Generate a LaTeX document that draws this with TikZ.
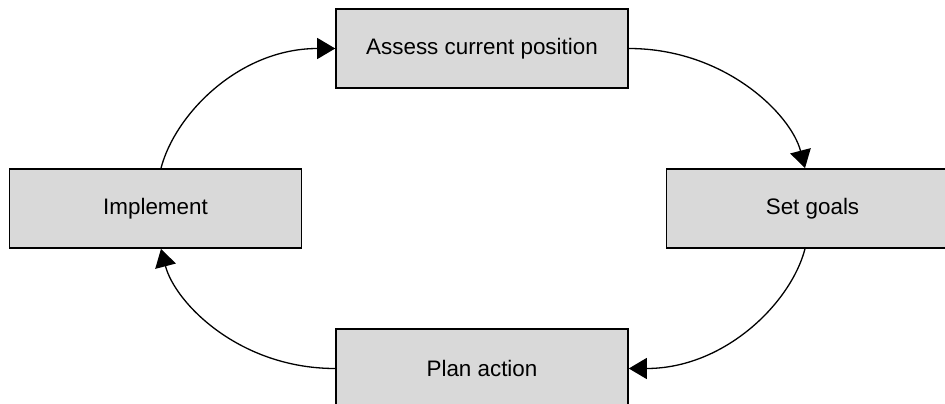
\documentclass[tikz,border=0pt]{standalone}
\usepackage{fontspec}
\setmainfont{Liberation Sans}
\usetikzlibrary{arrows.meta}
\definecolor{boxgray}{RGB}{217,217,217}
\begin{document}
\begin{tikzpicture}[x=1pt,y=-1pt,
  stepbox/.style={draw=black, fill=boxgray, line width=1.6pt, minimum width=292pt, minimum height=79pt, inner sep=0pt, font=\fontsize{22.4}{27}\selectfont},
  flow/.style={line width=1.3pt, -{Triangle[length=18pt,width=21pt]}}]
\useasboundingbox (0,0) rectangle (945,404);
\clip (0,0) rectangle (945,404);
\node[stepbox] (assess) at (482,48.5) {Assess current position};
\node[stepbox] (goals) at (812.5,208.5) {Set goals};
\node[stepbox] (impl) at (155.5,208.5) {Implement};
\node[stepbox] (plan) at (482,368.5) {Plan action};
\coordinate (implT) at ([xshift=5.5pt]impl.north);
\coordinate (implB) at ([xshift=5.5pt]impl.south);
\coordinate (goalsT) at ([xshift=-7.5pt]goals.north);
\coordinate (goalsB) at ([xshift=-7.5pt]goals.south);
\draw[flow] (implT) .. controls ([shift={(14pt,54pt)}]implT) and ([xshift=-96pt]assess.west) .. (assess.west);
\draw[flow] (assess.east) .. controls ([xshift=96pt]assess.east) and ([shift={(-14pt,54pt)}]goalsT) .. (goalsT);
\draw[flow] (goalsB) .. controls ([shift={(-14pt,-54pt)}]goalsB) and ([xshift=96pt]plan.east) .. (plan.east);
\draw[flow] (plan.west) .. controls ([xshift=-96pt]plan.west) and ([shift={(14pt,-54pt)}]implB) .. (implB);
\end{tikzpicture}
\end{document}
